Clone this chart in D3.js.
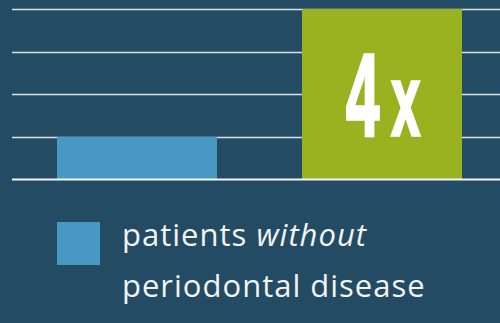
<!DOCTYPE html>
<html>
<head>
<meta charset="utf-8">
<script src="https://cdn.jsdelivr.net/npm/d3@7"></script>
<style>
  html, body { margin: 0; padding: 0; background: #234b63; }
  svg { display: block; }
</style>
</head>
<body>
<svg id="chart" width="500" height="323"></svg>
<script>
// ---- data ----
const categories = ["without", "with"];
const values = [1, 4];
const barColors = ["#4898c4", "#9bb220"];
const yTicks = [0, 1, 2, 3, 4];
const barLabel = ["", "4x"];
const legendLine1 = ["patients ", "without"];
const legendLine2 = "periodontal disease";

const svg = d3.select("#chart");
const W = 500, H = 323;

svg.append("rect").attr("width", W).attr("height", H).attr("fill", "#234b63");

const y = d3.scaleLinear().domain([0, 4]).range([179.5, 9]);
const x = d3.scaleBand().domain(categories)
  .range([8, 511]).paddingInner(85 / 245).paddingOuter(0.2);

// gridlines
svg.append("g").selectAll("line").data(yTicks.filter(t => t > 0)).join("line")
  .attr("x1", 12).attr("x2", W)
  .attr("y1", d => Math.round(y(d)) + 0.5).attr("y2", d => Math.round(y(d)) + 0.5)
  .attr("stroke", "#dae1e5").attr("stroke-width", 1.4);

// bars
svg.append("g").selectAll("rect").data(values).join("rect")
  .attr("x", (d, i) => x(categories[i]))
  .attr("width", x.bandwidth())
  .attr("y", d => y(d))
  .attr("height", d => y(0) - y(d))
  .attr("fill", (d, i) => barColors[i]);

// baseline
svg.append("line").attr("x1", 12).attr("x2", W)
  .attr("y1", y(0)).attr("y2", y(0))
  .attr("stroke", "#f4f6f7").attr("stroke-width", 2.2);

// "4x" label
const cx = x("with") + x.bandwidth() / 2 + 1;
const lbl = svg.append("text")
  .attr("x", 0).attr("y", 0)
  .attr("fill", "#ffffff").attr("stroke", "#ffffff").attr("stroke-width", 3.5)
  .attr("stroke-linejoin", "miter")
  .style("font-family", "'Liberation Sans Narrow', 'Liberation Sans', Arial, sans-serif")
  .style("font-weight", "bold");
lbl.append("tspan").text(barLabel[1][0]).style("font-size", "117px");
lbl.append("tspan").text(barLabel[1][1]).attr("dx", 24).style("font-size", "100px");
// fit condensed look: squeeze horizontally around the bar centre
const bb = lbl.node().getBBox();
const targetW = 74;
const sx = targetW / bb.width;
const baseY = y(1) - 1.5;
lbl.attr("transform", `translate(${cx - (bb.x + bb.width / 2) * sx},${baseY}) scale(${sx},1)`);

// legend
svg.append("rect").attr("x", 57).attr("y", 222).attr("width", 43).attr("height", 43)
  .attr("fill", barColors[0]);

const lt = svg.append("text")
  .attr("fill", "#f2f4f5")
  .style("font-family", "'Open Sans', sans-serif")
  .style("font-size", "31px")
  .style("letter-spacing", "1px");
const l1 = lt.append("tspan").attr("x", 122).attr("y", 245.5);
l1.append("tspan").text(legendLine1[0]);
l1.append("tspan").text(legendLine1[1]).style("font-style", "italic");
lt.append("tspan").attr("x", 122).attr("y", 297).text(legendLine2);
</script>
</body>
</html>
